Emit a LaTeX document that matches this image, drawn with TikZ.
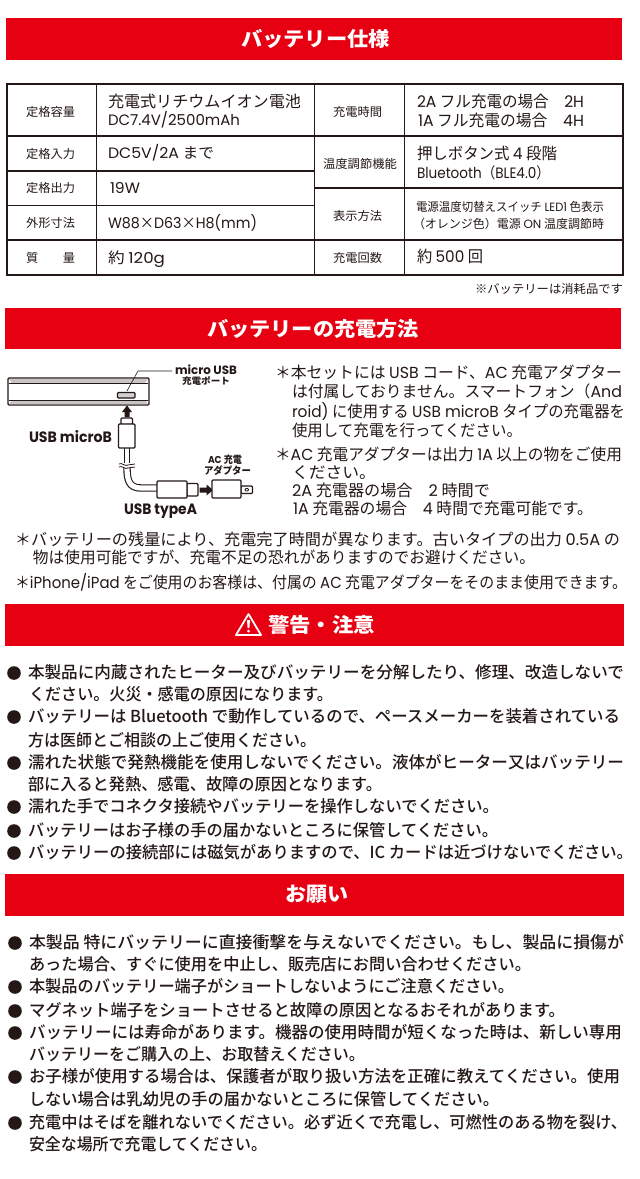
\documentclass[tikz,border=0pt]{standalone}
\usepackage{graphicx}
\usepackage{fontspec}
\setmainfont{Noto Sans CJK JP}
\newfontfamily\med{Noto Sans CJK JP Medium}
\newfontfamily\lat{Poppins}
\definecolor{ink}{HTML}{231815}
\definecolor{brand}{HTML}{E60012}
\newsavebox\mybx
\newcounter{tc}
\newcommand\fitl[5]{\stepcounter{tc}\node[anchor=base west,inner sep=0pt,outer sep=0pt,text=ink] (t\arabic{tc}) at (#1,#3+.36*#4) {\sbox\mybx{\fontsize{#4pt}{#4pt}\selectfont #5}\pgfmathsetmacro\rr{(#2-#1)/\wd\mybx}\scalebox{\rr}[1]{\usebox\mybx}};}
\newcommand\fitw[5]{\stepcounter{tc}\node[anchor=base west,inner sep=0pt,outer sep=0pt,text=white] (t\arabic{tc}) at (#1,#3+.36*#4) {\sbox\mybx{\fontsize{#4pt}{#4pt}\selectfont\bfseries #5}\pgfmathsetmacro\rr{(#2-#1)/\wd\mybx}\scalebox{\rr}[1]{\usebox\mybx}};}
\tikzset{
  bar/.style={fill=brand,draw=none},
  grid/.style={draw=ink,line width=1.2pt},
  outerline/.style={draw=ink,line width=2pt},
  part/.style={draw=ink,line width=1.1pt,fill=white,rounded corners=1pt},
  dot/.style={fill=ink,draw=none}
}
\begin{document}
\begin{tikzpicture}[x=1pt,y=-1pt]
\useasboundingbox (0,0) rectangle (640,1179);
\fill[white] (0,0) rectangle (640,1179);
% red bars
\path[bar] (6,18) rectangle (622,60);
\path[bar] (5,308) rectangle (621,349);
\path[bar] (5,604) rectangle (624,646);
\path[bar] (5,874) rectangle (624,916);
\fitw{241}{390}{39}{20}{バッテリー仕様}
\fitw{207}{419}{329}{20}{バッテリーの充電方法}
\fitw{268}{375}{625}{20}{警告・注意}
\fitw{285}{348}{894}{20}{お願い}
% warning triangle
\draw[white,line width=1.8pt,line join=round] (248.5,614) -- (261,635) -- (236,635) -- cycle;
\fill[white] (247,620) -- (250,620) -- (249.4,628) -- (247.6,628) -- cycle;
\fill[white] (248.5,631) circle (1.5);
% table
\draw[grid] (96.5,84) -- (96.5,275) (314.5,84) -- (314.5,275) (404.5,84) -- (404.5,275);
\draw[grid] (6,136) -- (314.5,136) (6,171) -- (314.5,171) (6,205.5) -- (314.5,205.5) (6,240) -- (314.5,240);
\draw[grid] (314.5,136) -- (623,136) (314.5,188) -- (623,188) (314.5,240) -- (623,240);
\draw[outerline] (6.5,84) rectangle (623,275);
\fitl{26}{75}{112}{12}{定格容量}
\fitl{26}{75}{154}{12}{定格入力}
\fitl{26}{75}{188.5}{12}{定格出力}
\fitl{26}{75}{223}{12}{外形寸法}
\fitl{26}{75}{258}{12}{質\hspace{2em}量}
\fitl{108}{301}{102}{16}{充電式リチウムイオン電池}
\fitl{108}{240}{120}{15}{\lat DC7.4V/2500mAh}
\fitl{108}{214}{153}{15}{{\lat DC5V/2A} まで}
\fitl{110}{140}{188}{15}{\lat 19W}
\fitl{108}{257}{223}{15}{{\lat W88}×{\lat D63}×{\lat H8(mm)}}
\fitl{108}{165}{258}{15}{約 {\lat 120g}}
\fitl{333}{382}{112}{12}{充電時間}
\fitl{323}{397}{164}{12}{温度調節機能}
\fitl{333}{382}{216}{12}{表示方法}
\fitl{333}{382}{258}{12}{充電回数}
\fitl{417}{584}{102}{16}{{\lat 2A} フル充電の場合　{\lat 2H}}
\fitl{418}{584}{121}{16}{{\lat 1A} フル充電の場合　{\lat 4H}}
\fitl{417}{557}{154}{16}{押しボタン式 {\lat 4} 段階}
\fitl{417}{550}{173}{15}{{\lat Bluetooth}（{\lat BLE4.0}）}
\fitl{416}{604}{207}{12}{電源温度切替えスイッチ {\lat LED1} 色表示}
\fitl{413}{604}{224}{12}{（オレンジ色）電源 {\lat ON} 温度調節時}
\fitl{417}{483}{257}{16}{約 {\lat 500} 回}
\fitl{475}{623}{289}{12}{※バッテリーは消耗品です}
% battery
\draw[part,line width=1.2pt] (8,378) rectangle (149,405);
\fill[ink!25] (9,379) -- (148,379) -- (145,383) -- (12,383) -- cycle;
\fill[ink!25] (9,404) -- (148,404) -- (145,400) -- (12,400) -- cycle;
\draw[ink,line width=1pt] (9,383) -- (148,383) (9,400) -- (148,400);
\draw[part,fill=ink!20] (117.5,392.5) rectangle (135,398);
\draw[ink,line width=.6pt] (127,391) -- (138,371) -- (172,371);
% arrow to port
\fill[ink] (127,405.5) -- (132,412) -- (129.5,412) -- (129.5,417) -- (124.5,417) -- (124.5,412) -- (122,412) -- cycle;
% usb microB
\coordinate (cabA) at (127,448);
\coordinate (cabB) at (127,463);
\coordinate (cabC) at (127,468);
\coordinate (cabD) at (157,488);
\draw[ink,line width=6.6pt] (cabA) -- (cabB);
\draw[white,line width=4.4pt] (127,447) -- (127,464);
\draw[ink,line width=7.4pt] (cabC) .. controls (127,480) and (129,488) .. (141,488) -- (cabD);
\draw[white,line width=5.2pt] (127,467) .. controls (127,480) and (129,488) .. (141,488) -- (158,488);
\draw[ink,line width=.8pt] (119,464) .. controls (122,462) and (125,467) .. (128,465) .. controls (130,463) and (132,466) .. (135,464);
\draw[ink,line width=.8pt] (119,467) .. controls (122,465) and (125,470) .. (128,468) .. controls (130,466) and (132,469) .. (135,467);
\draw[part] (121,418) rectangle (132.5,424.5);
\draw[part] (118.5,424) rectangle (135,448);
% usb A
\draw[part] (187,483.5) rectangle (198,496);
\draw[part] (157,481) rectangle (187,498);
\fill[ink] (213,490) -- (206.5,484.5) -- (206.5,487.5) -- (199.5,487.5) -- (199.5,492.5) -- (206.5,492.5) -- (206.5,495.5) -- cycle;
% adapter
\draw[part] (241,486) rectangle (252.5,493.5);
\draw[part,fill=none,line width=.8pt] (245,488.5) rectangle (248.5,491);
\draw[part] (212,480) rectangle (241,498);
% labels
\fitl{175}{237}{370}{12}{\lat\bfseries micro USB}
\fitl{182}{230}{381}{9}{\bfseries 充電ポート}
\fitl{29}{112}{437}{15}{\lat\bfseries USB microB}
\fitl{124}{197}{509}{15}{\lat\bfseries USB typeA}
\fitl{208}{242}{460}{10}{\bfseries {\lat AC} 充電}
\fitl{204}{251}{471}{10}{\bfseries アダプター}
% right notes
\fitl{275}{622}{373}{16}{＊本セットには {\lat USB} コード、{\lat AC} 充電アダプター}
\fitl{292}{622}{392}{16}{は付属しておりません。スマートフォン（{\lat And}}
\fitl{292}{625}{412}{16}{{\lat roid)} に使用する {\lat USB microB} タイプの充電器を}
\fitl{292}{522}{431}{16}{使用して充電を行ってください。}
\fitl{275}{622}{455}{16}{＊{\lat AC} 充電アダプターは出力 {\lat 1A} 以上の物をご使用}
\fitl{292}{376}{473}{16}{ください。}
\fitl{292}{490}{491}{16}{{\lat 2A} 充電器の場合　{\lat 2} 時間で}
\fitl{293}{593}{509}{16}{{\lat 1A} 充電器の場合　{\lat 4} 時間で充電可能です。}
\fitl{15}{620}{540}{16}{＊バッテリーの残量により、充電完了時間が異なります。古いタイプの出力 {\lat 0.5A} の}
\fitl{33}{535}{558}{16}{物は使用可能ですが、充電不足の恐れがありますのでお避けください。}
\fitl{15}{627}{583}{16}{＊{\lat iPhone/iPad} をご使用のお客様は、付属の {\lat AC} 充電アダプターをそのまま使用できます。}
% warnings
\foreach \yy in {673,717,763,807,831,853}{\path[dot] (14,\yy) circle (6.8);}
\fitl{28}{624}{673}{16.5}{\med 本製品に内蔵されたヒーター及びバッテリーを分解したり、修理、改造しないで}
\fitl{29}{333}{695}{16.5}{\med ください。火災・感電の原因になります。}
\fitl{28}{620}{717}{16.5}{\med バッテリーは Bluetooth で動作しているので、ペースメーカーを装着されている}
\fitl{28}{316}{741}{16.5}{\med 方は医師とご相談の上ご使用ください。}
\fitl{28}{624}{763}{16.5}{\med 濡れた状態で発熱機能を使用しないでください。液体がヒーター又はバッテリー}
\fitl{28}{382}{785}{16.5}{\med 部に入ると発熱、感電、故障の原因となります。}
\fitl{28}{499}{807}{16.5}{\med 濡れた手でコネクタ接続やバッテリーを操作しないでください。}
\fitl{28}{498}{831}{16.5}{\med バッテリーはお子様の手の届かないところに保管してください。}
\fitl{28}{633}{853}{16.5}{\med バッテリーの接続部には磁気がありますので、IC カードは近づけないでください。}
% requests
\foreach \yy in {943,987,1011,1033,1077,1123}{\path[dot] (15,\yy) circle (6.8);}
\fitl{29}{624}{943}{16.5}{\med 本製品 特にバッテリーに直接衝撃を与えないでください。もし、製品に損傷が}
\fitl{29}{531}{965}{16.5}{\med あった場合、すぐに使用を中止し、販売店にお問い合わせください。}
\fitl{29}{514}{987}{16.5}{\med 本製品のバッテリー端子がショートしないようにご注意ください。}
\fitl{29}{565}{1011}{16.5}{\med マグネット端子をショートさせると故障の原因となるおそれがあります。}
\fitl{29}{622}{1033}{16.5}{\med バッテリーには寿命があります。機器の使用時間が短くなった時は、新しい専用}
\fitl{29}{365}{1055}{16.5}{\med バッテリーをご購入の上、お取替えください。}
\fitl{29}{620}{1077}{16.5}{\med お子様が使用する場合は、保護者が取り扱い方法を正確に教えてください。使用}
\fitl{29}{499}{1100}{16.5}{\med しない場合は乳幼児の手の届かないところに保管してください。}
\fitl{29}{627}{1123}{16.5}{\med 充電中はそばを離れないでください。必ず近くで充電し、可燃性のある物を裂け、}
\fitl{29}{267}{1145}{16.5}{\med 安全な場所で充電してください。}
\end{tikzpicture}
\end{document}
